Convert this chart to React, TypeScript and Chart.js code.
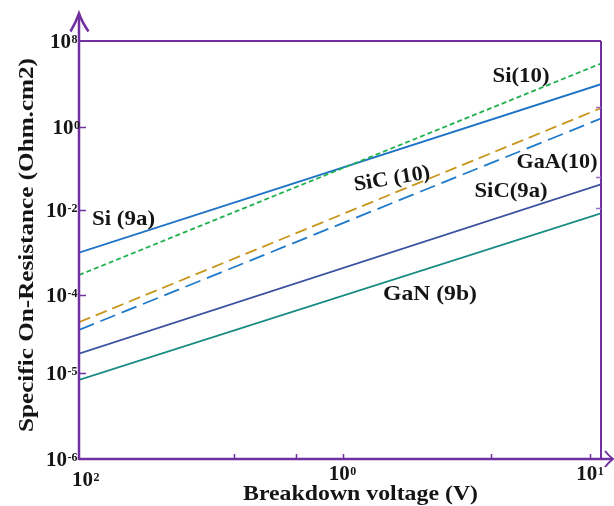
import React, { useEffect, useRef } from "react";
import { Chart, registerables } from "chart.js";

Chart.register(...registerables);

// Horizontal position along the breakdown-voltage axis (0 = left edge, 1 = right edge)
const voltageSpan = [0, 1];

// Series values in decade-tick units of the y axis (0 = 10^-6 tick, 5 = 10^8 tick)
const si9a = [2.468, 4.483];
const si10 = [2.201, 4.73];
const sic10 = [1.636, 4.197];
const gaa10 = [1.544, 4.073];
const sic9a = [1.261, 3.285];
const gan9b = [0.947, 2.938];

const seriesNames = ["Si (9a)", "Si(10)", "SiC (10)", "GaA(10)", "SiC(9a)", "GaN (9b)"];

// Tick values / labels
const yTickValues = [0, 1.027, 1.962, 2.978, 3.969, 5];
const yTickExponents = ["-6", "-5", "-4", "-2", "0", "8"];
const xTickValues = [0, 0.505, 0.979];
const xTickExponents = ["2", "0", "1"];
const xMinorTicks = [0.2975, 0.4157, 0.789];
const rightTicks = [4.208, 3.372, 3.0];

const xTitle = "Breakdown voltage (V)";
const yTitle = "Specific On-Resistance (Ohm.cm2)";

const PURPLE = "#7030a0";
const TEXT = "#151515";
const SERIF = "'Liberation Serif', 'DejaVu Serif', serif";

function fitText(
  ctx: CanvasRenderingContext2D,
  text: string,
  x: number,
  y: number,
  font: string,
  width: number,
  align: CanvasTextAlign,
  baseline: CanvasTextBaseline,
  rotation = 0
) {
  ctx.save();
  ctx.translate(x, y);
  ctx.rotate(rotation);
  ctx.font = font;
  const w = ctx.measureText(text).width;
  ctx.scale(width / w, 1);
  ctx.textAlign = align;
  ctx.textBaseline = baseline;
  ctx.fillStyle = TEXT;
  ctx.fillText(text, 0, 0);
  ctx.restore();
}

function drawPow(ctx: CanvasRenderingContext2D, left: number, cy: number, exp: string) {
  ctx.save();
  ctx.fillStyle = TEXT;
  ctx.textAlign = "left";
  ctx.textBaseline = "alphabetic";
  ctx.font = `bold 20px ${SERIF}`;
  const dw = ctx.measureText("10").width;
  ctx.save();
  ctx.translate(left, cy + 6.7);
  ctx.scale(21 / dw, 1);
  ctx.fillText("10", 0, 0);
  ctx.restore();
  ctx.font = `bold 12px ${SERIF}`;
  ctx.fillText(exp, left + 21.5, cy + 2);
  ctx.restore();
}

function powWidth(ctx: CanvasRenderingContext2D, exp: string) {
  ctx.save();
  ctx.font = `bold 12px ${SERIF}`;
  const w = ctx.measureText(exp).width;
  ctx.restore();
  return 21.5 + w;
}

const decorPlugin = {
  id: "decor",
  afterDraw(chart: any) {
    const ctx: CanvasRenderingContext2D = chart.ctx;
    const xs = chart.scales.x;
    const ys = chart.scales.y;
    const { left, right, top, bottom } = chart.chartArea;

    ctx.save();
    ctx.strokeStyle = PURPLE;
    ctx.lineCap = "butt";

    // top and right border
    ctx.lineWidth = 2;
    ctx.beginPath();
    ctx.moveTo(left, top);
    ctx.lineTo(right, top);
    ctx.moveTo(right, top);
    ctx.lineTo(right, bottom);
    ctx.stroke();

    // left axis with arrow
    ctx.lineWidth = 2.5;
    ctx.beginPath();
    ctx.moveTo(left, bottom + 1);
    ctx.lineTo(left, 14);
    ctx.stroke();
    ctx.beginPath();
    ctx.moveTo(left - 8.5, 31.5);
    ctx.quadraticCurveTo(left - 3, 22, left, 13.5);
    ctx.quadraticCurveTo(left + 3, 22, left + 9.5, 31.5);
    ctx.stroke();

    // bottom axis with arrow
    ctx.beginPath();
    ctx.moveTo(left, bottom);
    ctx.lineTo(612, bottom);
    ctx.stroke();
    ctx.lineWidth = 2;
    ctx.beginPath();
    ctx.moveTo(605, bottom - 8);
    ctx.quadraticCurveTo(609, bottom - 3, 613, bottom);
    ctx.quadraticCurveTo(609, bottom + 3, 605, bottom + 8);
    ctx.stroke();

    // y ticks
    ctx.lineWidth = 1.5;
    ctx.beginPath();
    yTickValues.forEach((v, i) => {
      if (i === 0 || i === yTickValues.length - 1) return;
      const py = Math.round(ys.getPixelForValue(v)) + 0.5;
      ctx.moveTo(left, py);
      ctx.lineTo(left + 7, py);
    });
    // x ticks (major interior + minor)
    [...xTickValues.slice(1), ...xMinorTicks].forEach((v) => {
      const px = Math.round(xs.getPixelForValue(v)) + 0.5;
      ctx.moveTo(px, bottom);
      ctx.lineTo(px, bottom - 5);
    });
    ctx.stroke();
    // right ticks
    ctx.strokeStyle = "#9a6cc4";
    ctx.beginPath();
    rightTicks.forEach((v) => {
      const py = Math.round(ys.getPixelForValue(v)) + 0.5;
      ctx.moveTo(right, py);
      ctx.lineTo(right - 5, py);
    });
    ctx.stroke();
    ctx.restore();

    // y tick labels
    yTickValues.forEach((v, i) => {
      const py = ys.getPixelForValue(v);
      const exp = yTickExponents[i];
      const rEdge = exp === "0" ? 80 : 77.5;
      drawPow(ctx, rEdge - powWidth(ctx, exp), py, exp);
    });

    // x tick labels
    xTickValues.forEach((v, i) => {
      const px = xs.getPixelForValue(v);
      const exp = xTickExponents[i];
      const w = powWidth(ctx, exp);
      if (i === 0) {
        drawPow(ctx, px - 7, 479, exp);
      } else {
        drawPow(ctx, px - w / 2, 473, exp);
      }
    });

    // axis titles
    fitText(ctx, xTitle, 360.5, 499.5, `bold 22px ${SERIF}`, 235, "center", "alphabetic");
    fitText(ctx, yTitle, 33, 245, `bold 22px ${SERIF}`, 374, "center", "alphabetic", -Math.PI / 2);

    // series annotations (data-space anchors)
    const notes = [
      { t: seriesNames[0], x: 0.0853, y: 2.864, w: 63, r: 0 },
      { t: seriesNames[1], x: 0.8467, y: 4.578, w: 57, r: 0 },
      { t: seriesNames[2], x: 0.5996, y: 3.348, w: 77, r: -0.165 },
      { t: seriesNames[3], x: 0.9157, y: 3.551, w: 81, r: 0 },
      { t: seriesNames[4], x: 0.8276, y: 3.193, w: 73, r: 0 },
      { t: seriesNames[5], x: 0.6724, y: 1.962, w: 94, r: 0 },
    ];
    notes.forEach((n) => {
      fitText(
        ctx,
        n.t,
        xs.getPixelForValue(n.x),
        ys.getPixelForValue(n.y),
        `bold 21px ${SERIF}`,
        n.w,
        "center",
        "middle",
        n.r
      );
    });
  },
};

function pts(vals: number[]) {
  return voltageSpan.map((x, i) => ({ x, y: vals[i] }));
}

export default function App() {
  const ref = useRef<HTMLCanvasElement>(null);
  useEffect(() => {
    const chart = new Chart(ref.current as HTMLCanvasElement, {
      type: "line",
      data: {
        datasets: [
          { label: seriesNames[1], data: pts(si10), borderColor: "#22b04e", borderWidth: 1.8, borderDash: [5, 3] },
          { label: seriesNames[0], data: pts(si9a), borderColor: "#1c73c6", borderWidth: 1.8 },
          { label: seriesNames[2], data: pts(sic10), borderColor: "#c9961c", borderWidth: 1.8, borderDash: [12, 6] },
          { label: seriesNames[3], data: pts(gaa10), borderColor: "#1f7bc9", borderWidth: 1.8, borderDash: [16, 7] },
          { label: seriesNames[4], data: pts(sic9a), borderColor: "#3a50a0", borderWidth: 1.8 },
          { label: seriesNames[5], data: pts(gan9b), borderColor: "#148a80", borderWidth: 1.8 },
        ],
      },
      options: {
        responsive: false,
        animation: false,
        devicePixelRatio: 1,
        layout: { padding: { left: 79, right: 13, top: 41, bottom: 47 } },
        elements: { point: { radius: 0 }, line: { tension: 0 } },
        plugins: { legend: { display: false }, tooltip: { enabled: false } },
        scales: {
          x: { type: "linear", min: 0, max: 1, display: false },
          y: { type: "linear", min: 0, max: 5, display: false },
        },
      },
      plugins: [decorPlugin],
    } as any);
    return () => chart.destroy();
  }, []);
  return (
    <div style={{ position: "fixed", left: 0, top: 0, width: 614, height: 506, background: "#fff" }}>
      <canvas ref={ref} width={614} height={506} style={{ width: 614, height: 506, display: "block" }} />
    </div>
  );
}
